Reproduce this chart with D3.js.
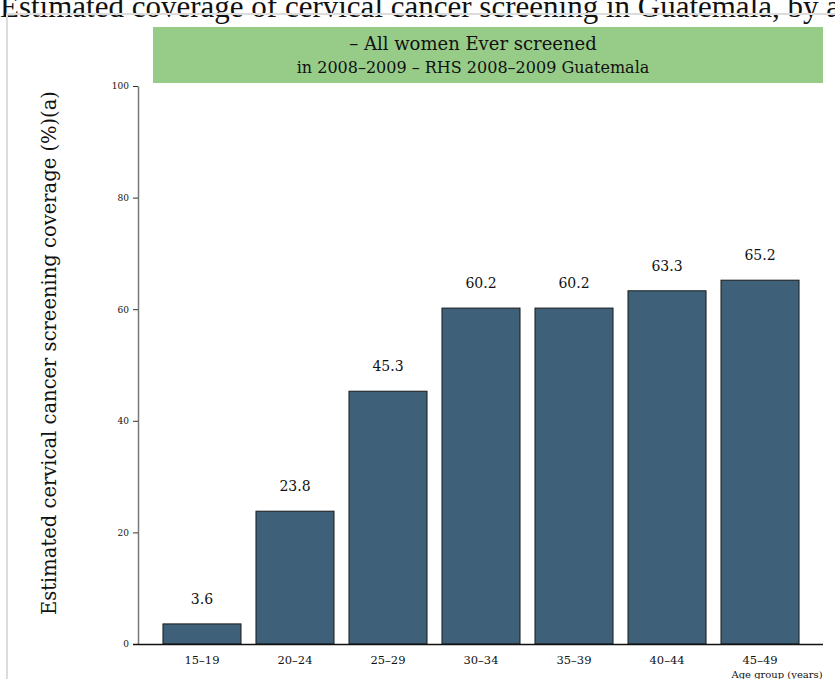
<!DOCTYPE html>
<html>
<head>
<meta charset="utf-8">
<script src="https://cdn.jsdelivr.net/npm/d3@7"></script>
<style>
  body { margin: 0; background: #fff; }
  svg { display: block; }
</style>
</head>
<body>
<div id="chart"></div>
<script>
// data
const ageGroups = ["15–19", "20–24", "25–29", "30–34", "35–39", "40–44", "45–49"]
const coverage = [3.6, 23.8, 45.3, 60.2, 60.2, 63.3, 65.2]
const yTicks = [0, 20, 40, 60, 80, 100]

const W = 835, H = 679

let svg = d3.select("#chart").append("svg")
    .attr("width", W)
    .attr("height", H)

// page title, cut off at the right like the original
svg.append("text")
    .text("Estimated coverage of cervical cancer screening in Guatemala, by age group")
    .attr("x", 0)
    .attr("y", 17)
    .attr("font-family", "Liberation Serif")
    .attr("font-size", 31)
    .attr("fill", "#111")

// light grey frame
svg.append("rect")
    .attr("x", 7)
    .attr("y", 14)
    .attr("width", 900)
    .attr("height", 800)
    .attr("fill", "none")
    .attr("stroke", "#dcdcdc")
    .attr("stroke-width", 2)

// scales
let x = d3.scaleBand()
    .domain(ageGroups)
    .range([148, 814])
    .paddingInner(0.161)
    .paddingOuter(0.161)
let y = d3.scaleLinear()
    .domain([0, 100])
    .range([644, 86])

// green header box
svg.append("rect")
    .attr("x", 153)
    .attr("y", 27)
    .attr("width", 670)
    .attr("height", 56)
    .attr("fill", "#97cc88")

svg.append("text")
    .text("– All women Ever screened")
    .attr("x", 473)
    .attr("y", 50)
    .attr("text-anchor", "middle")
    .attr("font-family", "DejaVu Serif")
    .attr("font-size", 18)
    .attr("fill", "#111")
svg.append("text")
    .text("in 2008–2009 – RHS 2008–2009 Guatemala")
    .attr("x", 473)
    .attr("y", 73)
    .attr("text-anchor", "middle")
    .attr("font-family", "DejaVu Serif")
    .attr("font-size", 16)
    .attr("fill", "#111")

// y axis
let yAxis = svg.append("g")
    .attr("transform", "translate(138,0)")
    .call(d3.axisLeft(y).tickValues(yTicks).tickSize(5).tickSizeOuter(0))
yAxis.select(".domain").attr("stroke", "#777").attr("stroke-width", 1.5)
yAxis.selectAll(".tick line").attr("stroke", "#333")
yAxis.selectAll(".tick text")
    .attr("font-family", "DejaVu Serif")
    .attr("font-size", 9)
    .attr("fill", "#111")
    .attr("x", -9)

// y axis label
svg.append("text")
    .text("Estimated cervical cancer screening coverage (%)(a)")
    .attr("transform", "translate(56,353) rotate(-90)")
    .attr("text-anchor", "middle")
    .attr("font-family", "DejaVu Serif")
    .attr("font-size", 19.5)
    .attr("fill", "#111")

// bars
svg.selectAll(".bar")
    .data(coverage)
    .enter().append("rect")
    .attr("class", "bar")
    .attr("x", (d, i) => x(ageGroups[i]))
    .attr("width", x.bandwidth())
    .attr("y", d => y(d))
    .attr("height", d => y(0) - y(d))
    .attr("fill", "#3e6179")
    .attr("stroke", "#1a1a1a")
    .attr("stroke-width", 1)

// value labels
svg.selectAll(".val")
    .data(coverage)
    .enter().append("text")
    .attr("class", "val")
    .text(d => d.toFixed(1))
    .attr("x", (d, i) => x(ageGroups[i]) + x.bandwidth() / 2)
    .attr("y", d => y(d) - 20)
    .attr("text-anchor", "middle")
    .attr("font-family", "DejaVu Serif")
    .attr("font-size", 14)
    .attr("fill", "#111")

// x axis
let xAxis = svg.append("g")
    .attr("transform", "translate(0,644)")
    .call(d3.axisBottom(x).tickSize(0).tickPadding(12))
xAxis.select(".domain")
    .attr("d", "M133,0.5H823")
    .attr("stroke", "#111")
    .attr("stroke-width", 1.5)
xAxis.selectAll(".tick text")
    .attr("font-family", "DejaVu Serif")
    .attr("font-size", 11.5)
    .attr("fill", "#111")

svg.append("text")
    .text("Age group (years)")
    .attr("x", 777)
    .attr("y", 678)
    .attr("text-anchor", "middle")
    .attr("font-family", "DejaVu Serif")
    .attr("font-size", 10)
    .attr("fill", "#111")
</script>
</body>
</html>
